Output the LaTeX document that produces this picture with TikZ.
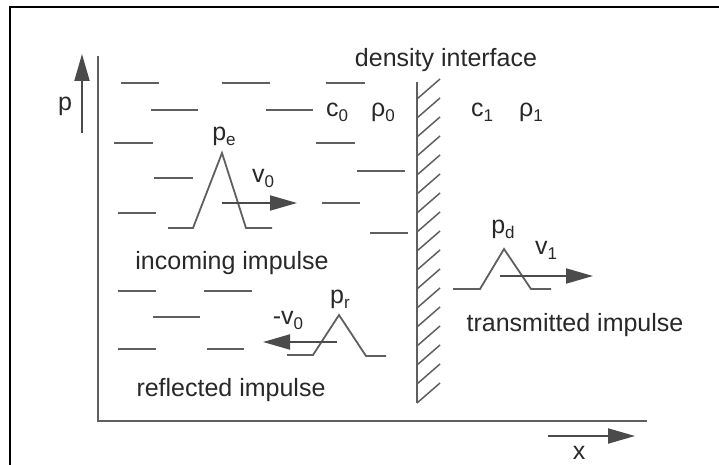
\documentclass[tikz,border=0pt]{standalone}
\usepackage{fontspec}
\setmainfont{Liberation Sans}
\usetikzlibrary{arrows.meta}
\definecolor{ln}{RGB}{95,95,95}
\definecolor{tx}{RGB}{40,40,40}
\definecolor{ar}{RGB}{75,75,75}
\newcommand{\sbs}[1]{\raisebox{-5pt}{\fontsize{17}{17}\selectfont #1}}
\begin{document}
\begin{tikzpicture}[x=1pt,y=-1pt,
  lbl/.style={inner sep=0pt, text=tx, font=\fontsize{25}{30}\selectfont},
  dashline/.style={draw=ln, line width=1.8pt},
  pulse/.style={draw=ln, line width=1.8pt, line join=miter},
  vel/.style={draw=ar, line width=2pt, -{Triangle[length=27pt,width=15pt]}},
  frameline/.style={draw=black, line width=2.5pt},
  axisline/.style={draw=ln, line width=2pt},
  hatchline/.style={draw=ln, line width=1.5pt}]
\useasboundingbox (0,0) rectangle (719,465);
% outer frame
\coordinate (fl) at (10,465);
\coordinate (fc) at (10,7);
\coordinate (fr) at (719,7);
\draw[frameline] (fl) -- (fc) -- (fr);
% axes
\coordinate (ot) at (98,56);
\coordinate (oo) at (98,421);
\coordinate (ox) at (647,421);
\draw[axisline] (ot) -- (oo) -- (ox);
\coordinate (pa) at (82,133);
\coordinate (pb) at (82,54);
\draw[vel] (pa) -- (pb);
\node[lbl] (plab) at (65,106) {p};
\coordinate (xa) at (548,436);
\coordinate (xb) at (635,436);
\draw[vel] (xa) -- (xb);
\node[lbl] (xlab) at (579,453) {x};
% interface wall
\coordinate (wt) at (417,82);
\coordinate (wb) at (417,403);
\draw[axisline] (wt) -- (wb);
\foreach \k in {0,...,16}
  \draw[hatchline] (417,{403-19*\k}) -- (440,{383-19*\k});
\node[lbl] (dens) at (446,60) {density interface};
% dashes (medium 0)
\foreach \xa/\xb/\yy in {121/159/83, 222/270/83, 326/365/83,
   151/198/110, 266/313/110,
   114/153/143, 316/355/143,
   154/193/178, 357/405/171,
   118/156/213, 322/360/203, 370/408/233,
   118/156/291, 204/252/291,
   153/200/317,
   118/156/349, 207/244/349}
  \draw[dashline] (\xa,\yy) -- (\xb,\yy);
\node[lbl] (c0) at (337,112) {c\sbs{0}};
\node[lbl] (r0) at (383,112) {ρ\sbs{0}};
\node[lbl] (c1) at (482,112) {c\sbs{1}};
\node[lbl] (r1) at (531,112) {ρ\sbs{1}};
% incoming pulse
\draw[pulse] (168,228) -- (193,228) -- (222,153) -- (246,228) -- (272,228);
\coordinate (v0a) at (222,203);
\coordinate (v0b) at (297,203);
\draw[vel] (v0a) -- (v0b);
\node[lbl] (pe) at (224,136) {p\sbs{e}};
\node[lbl] (v0) at (263,178) {v\sbs{0}};
\node[lbl] (inc) at (232,263) {incoming impulse};
% reflected pulse
\draw[pulse] (287,355) -- (313,355) -- (339,315) -- (366,356) -- (386,356);
\coordinate (vra) at (337,342);
\coordinate (vrb) at (263,342);
\draw[vel] (vra) -- (vrb);
\node[lbl] (pr) at (340,299) {p\sbs{r}};
\node[lbl] (mv0) at (288,320) {-v\sbs{0}};
\node[lbl] (refl) at (231,390) {reflected impulse};
% transmitted pulse
\draw[pulse] (453,289) -- (480,289) -- (504,249) -- (531,289) -- (551,289);
\coordinate (v1a) at (500,276);
\coordinate (v1b) at (593,276);
\draw[vel] (v1a) -- (v1b);
\node[lbl] (pd) at (503,229) {p\sbs{d}};
\node[lbl] (v1) at (546,250) {v\sbs{1}};
\node[lbl] (trans) at (575,325) {transmitted impulse};
\end{tikzpicture}
\end{document}
